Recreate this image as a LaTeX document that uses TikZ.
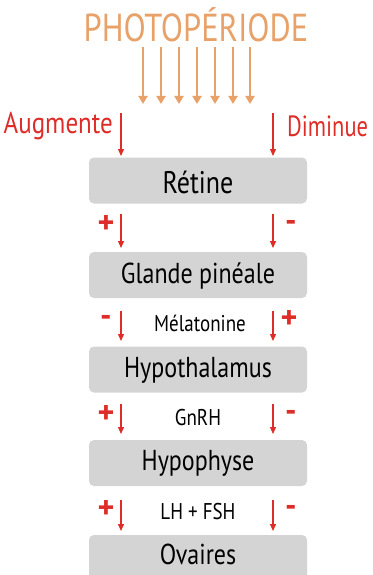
\documentclass[tikz,border=0pt]{standalone}
\usepackage{fontspec}
\setmainfont{PT Sans}
\usetikzlibrary{arrows.meta}
\definecolor{orng}{RGB}{232,162,105}
\definecolor{rd}{RGB}{222,45,40}
\definecolor{boxgray}{RGB}{212,212,212}
\newcommand{\tallt}[1]{\scalebox{1}[1.2]{#1}}
\begin{document}
\begin{tikzpicture}[x=1pt,y=-1pt,
  box/.style={fill=boxgray, rounded corners=5pt, minimum width=218pt, minimum height=46pt, inner sep=0pt, font=\fontsize{24}{24}\selectfont},
  boxtext/.style={inner sep=0pt, font=\fontsize{24}{24}\selectfont},
  mid/.style={inner sep=0pt, font=\fontsize{19}{19}\selectfont},
  sign/.style={inner sep=0pt, text=rd, font=\fontsize{32}{32}\selectfont\bfseries},
  side/.style={inner sep=0pt, text=rd, font=\fontsize{25}{25}\selectfont},
  oarrow/.style={draw=orng, line width=2.6pt, -{Triangle[length=8pt,width=9pt]}},
  rarrow/.style={draw=rd, line width=1.3pt, -{Triangle[length=7pt,width=6pt]}}
]
\useasboundingbox (0,0) rectangle (372,575);
\clip (0,0) rectangle (372,575);
\fill[white] (0,0) rectangle (372,575);

% title
\node[inner sep=0pt, text=orng, font=\fontsize{32.5}{32.5}\selectfont] (title) at (196,25) {\tallt{PHOTOPÉRIODE}};

% orange arrows
\foreach \i/\x in {1/143,2/161,3/179,4/197,5/215,6/233,7/250}{
  \coordinate (os\i) at (\x,47);
  \coordinate (oe\i) at (\x,104);
  \draw[oarrow] (os\i) -- (oe\i);
}

% side labels
\node[side, anchor=east] (aug) at (113,126) {\tallt{Augmente}};
\node[side, anchor=west, font=\fontsize{22.5}{22.5}\selectfont] (dim) at (287,126) {\scalebox{1}[1.3]{Diminue}};

% boxes
\node[box] (retine) at (198,180.5) {};
\node[box] (glande) at (198,275) {};
\node[box] (hypot) at (198,369.5) {};
\node[box] (hypoph) at (198,463) {};
\node[box] (ovaires) at (198,558) {};
\node[boxtext] (tretine) at (198,182) {\tallt{\fontsize{26}{26}\selectfont Rétine}};
\node[boxtext] (tglande) at (198,276) {\tallt{Glande pinéale}};
\node[boxtext] (thypot) at (198,370) {\tallt{Hypothalamus}};
\node[boxtext] (thypoph) at (198,463) {\tallt{Hypophyse}};
\node[boxtext] (tovaires) at (198,554) {\tallt{Ovaires}};

% mid labels
\node[mid] (mel) at (200,323) {\tallt{Mélatonine}};
\node[mid] (gnrh) at (198,418) {\tallt{GnRH}};
\node[mid] (lhfsh) at (198,512) {\tallt{LH + FSH}};

% red arrows
\foreach \n/\a/\b in {t/113/156, r/214/248, g/311/341, h/404/434, p/500/531}{
  \coordinate (l\n s) at (121,\a);
  \coordinate (l\n e) at (121,\b);
  \coordinate (r\n s) at (273,\a);
  \coordinate (r\n e) at (273,\b);
  \draw[rarrow] (l\n s) -- (l\n e);
  \draw[rarrow] (r\n s) -- (r\n e);
}

% signs
\node[sign] (s1l) at (106,224) {+};
\node[sign] (s1r) at (291,226) {-};
\node[sign] (s2l) at (106,321) {-};
\node[sign] (s2r) at (289,319) {+};
\node[sign] (s3l) at (106,414) {+};
\node[sign] (s3r) at (291,416) {-};
\node[sign] (s4l) at (106,509) {+};
\node[sign] (s4r) at (291,511) {-};
\end{tikzpicture}
\end{document}
